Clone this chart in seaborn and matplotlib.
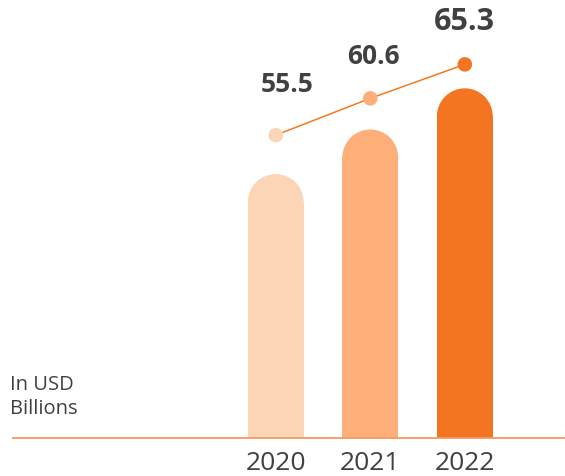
import matplotlib
matplotlib.use("Agg")
import matplotlib.pyplot as plt
import seaborn as sns
import pandas as pd
from matplotlib.patches import Ellipse

# ---- data ----
years = ["2020", "2021", "2022"]
values = [55.5, 60.6, 65.3]
value_labels = ["55.5", "60.6", "65.3"]
unit_label = "In USD\nBillions"

# ---- style ----
bar_colors = ["#FCD4B6", "#FEAE78", "#F37421"]
label_sizes = [19, 19, 22]
label_offsets = [(8, 31), (2, 25), (0, 25)]
text_color = "#404040"
line_color = "#F47920"
base_color = "#F39A60"

sns.set_theme(style="white")
plt.rcParams['font.family'] = ['Open Sans', 'DejaVu Sans']

W, H = 565, 476
fig = plt.figure(figsize=(W / 100, H / 100), dpi=100)
base_px = 438
left_px = 13
ax = fig.add_axes([left_px / W, (H - base_px) / H, (W - left_px) / W, base_px / H])

df = pd.DataFrame({"year": years, "value": values})
df["pos"] = range(len(df))

sns.barplot(data=df, x="year", y="value", hue="year", palette=bar_colors,
            width=0.59, legend=False, ax=ax, saturation=1, linewidth=0)
ax.set_xlim(-2.78, 3.06)
bar_k = 8.755
bar_c = 25.36
ax.set_ylim(bar_c, bar_c + base_px / bar_k)

# rounded tops
x_px = ax.transData.transform([(0, 0), (1, 0)])
y_px = ax.transData.transform([(0, 0), (0, 1)])
px_per_x = x_px[1, 0] - x_px[0, 0]
px_per_y = y_px[1, 1] - y_px[0, 1]
for p in list(ax.patches):
    x, w, h = p.get_x(), p.get_width(), p.get_height()
    ry = (w / 2) * px_per_x / px_per_y
    p.set_height(h - ry)
    p.set_linewidth(0)
    ax.add_patch(Ellipse((x + w / 2, h - ry), w, 2 * ry,
                         facecolor=p.get_facecolor(), linewidth=0))

for s in ["top", "left", "right"]:
    ax.spines[s].set_visible(False)
ax.spines["bottom"].set_color(base_color)
ax.spines["bottom"].set_linewidth(1.3)
ax.set_yticks([])
ax.set_xlabel("")
ax.set_ylabel("")
ax.tick_params(axis="x", length=0, labelsize=19, colors=text_color, pad=9)

# line on twin scale
ax2 = ax.twinx()
line_k = 7.224
line_c = 13.58
sns.lineplot(data=df, x="pos", y="value", color=line_color, linewidth=1.1, ax=ax2)
sns.scatterplot(data=df, x="pos", y="value", hue="year", palette=bar_colors,
                s=110, linewidth=0, legend=False, ax=ax2, zorder=3)
ax2.set_ylim(line_c, line_c + base_px / line_k)
ax2.set_xlim(ax.get_xlim())
for s in ax2.spines.values():
    s.set_visible(False)
ax2.set_yticks([])
ax2.set_ylabel("")
ax2.set_xlabel("")

for i, (v, lbl, fs, off) in enumerate(zip(values, value_labels, label_sizes, label_offsets)):
    ax2.annotate(lbl, (i, v), xytext=off, textcoords="offset points",
                 ha="center", va="baseline", fontsize=fs, fontweight="bold",
                 color=text_color)

fig.text(10 / W, 1 - 375 / H, unit_label, ha="left", va="top", fontsize=14.5,
         color=text_color, linespacing=1.3)

fig.savefig("out.png", dpi=100)
